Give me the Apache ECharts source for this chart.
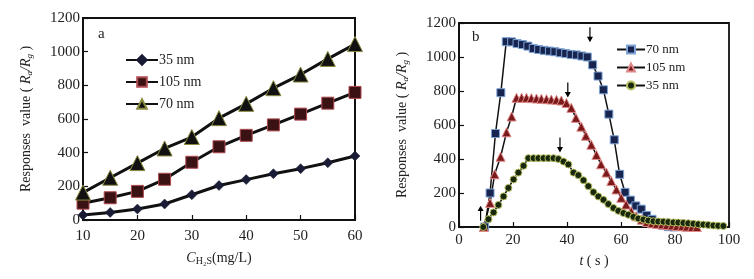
<!DOCTYPE html>
<html>
<head>
<meta charset="utf-8">
<script src="https://cdn.jsdelivr.net/npm/echarts@6/dist/echarts.min.js"></script>
<style>
  html, body { margin: 0; padding: 0; background: #fff; }
  #chart { width: 754px; height: 279px; }
</style>
</head>
<body>
<div id="chart"></div>
<script>
var dom = document.getElementById("chart");
var myChart = echarts.init(dom);

// 图a: 浓度 vs 响应值
var concX = [10, 15, 20, 25, 30, 35, 40, 45, 50, 55, 60];
var a35 = [30, 45, 65, 95, 150, 205, 240, 275, 305, 340, 380];
var a105 = [100, 132, 170, 242, 343, 435, 503, 565, 629, 694, 758];
var a70 = [163, 251, 338, 425, 493, 605, 690, 783, 864, 957, 1045];

// 图b: 时间响应
var t70 = [9.5, 11.5, 13.5, 15.5, 17.5, 19.5, 21.5, 23.5, 25.5, 27.5, 29.5, 31.5, 33.5, 35.5, 37.5, 39.5,
    41.5, 43.5, 45.5, 47.5, 49.5, 51.5, 53.5, 55.5, 57.5, 59.5, 61.5, 63.5, 65.5, 67.5, 69.5, 71.5,
    73.5, 75.5, 77.5, 79.5];
var v70 = [0, 200, 550, 790, 1090, 1089, 1079, 1073, 1064, 1050, 1044, 1039, 1035, 1031, 1025, 1021,
    1015, 1012, 1006, 1000, 954, 888, 807, 664, 513, 310, 204, 158, 124, 105, 68, 45,
    25, 10, 2, 0];
var t105 = [9.2, 11.5, 13.2, 15.4, 17.6, 19.5, 21.3, 23.2, 25.0, 26.8, 28.7, 30.5, 32.4, 34.2, 36.1, 37.9,
    39.8, 41.6, 43.3, 45.3, 47.0, 49.0, 50.9, 52.6, 54.6, 56.4, 58.3, 60.1, 61.9, 63.8, 65.6, 67.7,
    69.6, 71.5, 73.3, 75.2, 77.0, 78.9, 80.7, 82.6, 84.4, 86.3, 88.1];
var v105 = [0, 142, 310, 413, 557, 650, 760, 760, 760, 758, 756, 754, 752, 750, 748, 744,
    729, 701, 642, 590, 537, 484, 424, 369, 320, 270, 221, 172, 132, 93, 63, 43,
    30, 22, 18, 15, 12, 9, 6, 4, 2, 0, 0];
var t35 = [9.0, 10.9, 12.8, 14.6, 16.5, 18.3, 20.2, 22.0, 23.9, 25.7, 27.6, 29.4, 31.3, 33.1, 35.0, 36.8,
    38.7, 40.5, 42.4, 44.2, 46.1, 47.9, 49.8, 51.6, 53.5, 55.3, 57.2, 59.0, 60.9, 62.7, 64.6, 66.4,
    68.3, 70.1, 72.0, 73.8, 75.7, 77.5, 79.4, 81.2, 83.1, 84.9, 86.8, 88.6, 90.5, 92.3, 94.2, 96.0, 97.9];
var v35 = [0, 46, 86, 130, 180, 230, 280, 320, 360, 405, 405, 405, 405, 405, 405, 400,
    385, 368, 320, 305, 275, 240, 205, 180, 160, 135, 112, 95, 82, 72, 60, 50,
    44, 38, 34, 32, 31, 29, 27, 26, 24, 22, 19, 16, 14, 12, 9, 7, 6];

// 箭头标注 [t, value]
var arrowsDown = [[48.5, 1131], [40.3, 806], [37.4, 483]];
var arrowUp = [8.0, 81];

function pairs(xs, ys) {
    var out = [];
    for (var i = 0; i < xs.length; i++) out.push([xs[i], ys[i]]);
    return out;
}

var serif = 'Liberation Serif';
var arrowPath = 'path://M2.4,0 L3.6,0 L3.6,9 L6,9 L3,14 L0,9 L2.4,9 Z';

function arrowMark(p) {
    return {
        coord: [p[0], p[1]],
        symbol: arrowPath,
        symbolSize: [6, 15],
        itemStyle: { color: '#000' },
        label: { show: false }
    };
}

var axisText = { color: '#222', fontFamily: serif, fontSize: 15, formatter: function (v) { return String(v); } };
var nameRich = {
    n: { fontFamily: serif, fontSize: 14, color: '#222' },
    i: { fontFamily: serif, fontSize: 14, fontStyle: 'italic', color: '#222' },
    s: { fontFamily: serif, fontSize: 9, fontStyle: 'italic', color: '#222', verticalAlign: 'bottom', padding: [6, 0, 0, 0] },
    h: { fontFamily: serif, fontSize: 10, color: '#222', padding: [5, 0, 0, 0] }
};

function xAx(idx, min, max, interval, name, margin, gap) {
    return {
        type: 'value', gridIndex: idx, min: min, max: max, interval: interval,
        name: name, nameLocation: 'middle', nameGap: gap,
        nameTextStyle: { rich: nameRich },
        axisLine: { lineStyle: { color: '#111', width: 2 } },
        axisTick: { inside: true, length: 5, lineStyle: { color: '#111', width: 1.2 } },
        axisLabel: Object.assign({ margin: margin }, axisText),
        splitLine: { show: false }
    };
}
function yAx(idx, name) {
    return {
        type: 'value', gridIndex: idx, min: 0, max: 1200, interval: 200,
        name: name, nameLocation: 'middle', nameGap: 49,
        nameTextStyle: { rich: nameRich },
        axisLine: { lineStyle: { color: '#111', width: 2 } },
        axisTick: { inside: true, length: 5, lineStyle: { color: '#111', width: 1.2 } },
        axisLabel: Object.assign({ margin: 3 }, axisText),
        splitLine: { show: false }
    };
}

var yName = '{n|Responses  value ( }{i|R}{s|a}{i|/R}{s|g}{n| )}';

option = {
    backgroundColor: '#fff',
    animation: false,
    title: [
        { text: 'a', left: 93, top: 22, textStyle: { fontFamily: serif, fontSize: 15, fontWeight: 'normal', color: '#222' } },
        { text: 'b', left: 467, top: 25, textStyle: { fontFamily: serif, fontSize: 15, fontWeight: 'normal', color: '#222' } }
    ],
    grid: [
        { left: 83, right: 399, top: 18, bottom: 59, show: true, borderColor: '#111', borderWidth: 2 },
        { left: 459, right: 25, top: 23, bottom: 52, show: true, borderColor: '#111', borderWidth: 1.8 }
    ],
    legend: [
        {
            left: 120, top: 48, orient: 'vertical', itemGap: 8, itemWidth: 32, itemHeight: 12,
            textStyle: { fontFamily: serif, fontSize: 14, color: '#222', padding: [0, 0, 0, -4] },
            data: ['35 nm', '105 nm', '70 nm']
        },
        {
            left: 611, top: 38, orient: 'vertical', itemGap: 5, itemWidth: 28, itemHeight: 10,
            textStyle: { fontFamily: serif, fontSize: 13, color: '#222', padding: [0, 0, 0, -4] },
            formatter: function (n) { return n.trim(); },
            data: ['70 nm ', '105 nm ', '35 nm ']
        }
    ],
    xAxis: [
        xAx(0, 10, 60, 10, '{i|C}{h|H₂S}{n|(mg/L)}', 9, 31),
        xAx(1, 0, 100, 20, '{i|t}{n| ( s )}', 6, 27)
    ],
    yAxis: [
        yAx(0, yName),
        yAx(1, yName)
    ],
    series: [
        {
            name: '35 nm', type: 'line', xAxisIndex: 0, yAxisIndex: 0,
            data: pairs(concX, a35), symbol: 'diamond', symbolSize: 10,
            lineStyle: { color: '#111', width: 3 },
            itemStyle: { color: '#1a1c35', borderColor: '#1a1c35', borderWidth: 0.5 }
        },
        {
            name: '105 nm', type: 'line', xAxisIndex: 0, yAxisIndex: 0,
            data: pairs(concX, a105), symbol: 'rect', symbolSize: 12,
            lineStyle: { color: '#111', width: 3 },
            itemStyle: { color: '#3a1214', borderColor: '#b04a50', borderWidth: 1 }
        },
        {
            name: '70 nm', type: 'line', xAxisIndex: 0, yAxisIndex: 0,
            data: pairs(concX, a70), symbol: 'triangle', symbolSize: 15,
            lineStyle: { color: '#111', width: 3 },
            itemStyle: { color: '#111', borderColor: '#8a8a40', borderWidth: 1 }
        },
        {
            name: '70 nm ', type: 'line', xAxisIndex: 1, yAxisIndex: 1,
            data: pairs(t70, v70), symbol: 'rect', symbolSize: 8,
            lineStyle: { color: '#111', width: 1.5 },
            itemStyle: { color: '#17244d', borderColor: '#7ea3d6', borderWidth: 1 },
            markPoint: { data: [arrowMark(arrowsDown[0])] }
        },
        {
            name: '105 nm ', type: 'line', xAxisIndex: 1, yAxisIndex: 1,
            data: pairs(t105, v105), symbol: 'triangle', symbolSize: 9,
            lineStyle: { color: '#111', width: 1.5 },
            itemStyle: { color: '#7a1a1a', borderColor: '#e08a8a', borderWidth: 1 },
            markPoint: { data: [arrowMark(arrowsDown[1])] }
        },
        {
            name: '35 nm ', type: 'line', xAxisIndex: 1, yAxisIndex: 1,
            data: pairs(t35, v35), symbol: 'circle', symbolSize: 7,
            lineStyle: { color: '#111', width: 1.5 },
            itemStyle: { color: '#18280e', borderColor: '#b8c060', borderWidth: 1 },
            markPoint: {
                data: [
                    arrowMark(arrowsDown[2]),
                    Object.assign(arrowMark(arrowUp), { symbolRotate: 180 })
                ]
            }
        }
    ]
};
myChart.setOption(option, true);
</script>
</body>
</html>
